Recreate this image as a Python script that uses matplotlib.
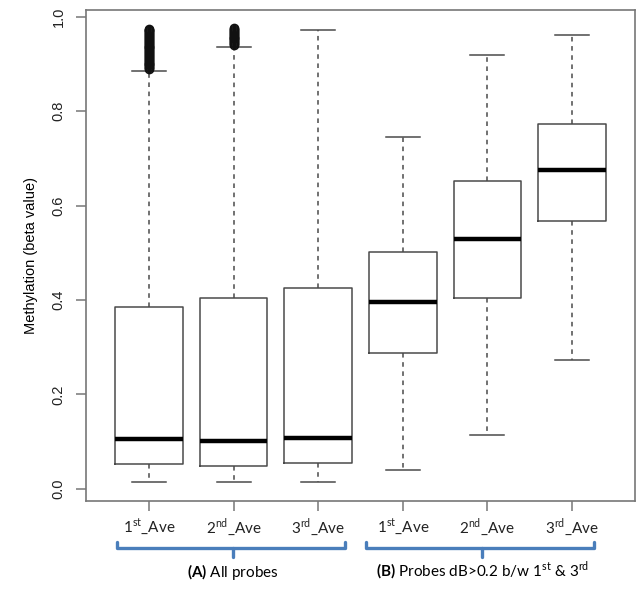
import matplotlib
matplotlib.use("Agg")
import matplotlib.pyplot as plt
import matplotlib.transforms as mtransforms

# Box statistics (beta values)
labels = [r"1$^{\mathrm{st}}$_Ave", r"2$^{\mathrm{nd}}$_Ave", r"3$^{\mathrm{rd}}$_Ave",
          r"1$^{\mathrm{st}}$_Ave", r"2$^{\mathrm{nd}}$_Ave", r"3$^{\mathrm{rd}}$_Ave"]
whis_lo = [0.0155, 0.014, 0.014, 0.040, 0.115, 0.272]
q1 = [0.053, 0.048, 0.055, 0.288, 0.404, 0.568]
medians = [0.105, 0.102, 0.107, 0.396, 0.530, 0.675]
q3 = [0.386, 0.405, 0.426, 0.501, 0.653, 0.772]
whis_hi = [0.886, 0.937, 0.972, 0.746, 0.918, 0.961]

# outliers (dense, they overlap into a solid bar)
fliers_1 = [0.889, 0.891, 0.893, 0.895, 0.897, 0.899, 0.901, 0.903, 0.905, 0.907,
            0.909, 0.911, 0.913, 0.915, 0.917, 0.919, 0.921, 0.923, 0.925, 0.927,
            0.929, 0.931, 0.933, 0.935, 0.937, 0.939, 0.941, 0.943, 0.945, 0.947,
            0.949, 0.951, 0.953, 0.955, 0.957, 0.959, 0.961, 0.963, 0.965, 0.967,
            0.969, 0.971, 0.973, 0.975]
fliers_2 = [0.940, 0.942, 0.944, 0.946, 0.948, 0.950, 0.952, 0.954, 0.956, 0.958,
            0.960, 0.962, 0.964, 0.966, 0.968, 0.970, 0.972, 0.974, 0.976]
fliers = [fliers_1, fliers_2, [], [], [], []]

group_a = "All probes"
group_b = r"Probes dB>0.2 b/w 1$^{\mathrm{st}}$ & 3$^{\mathrm{rd}}$"

plt.rcParams["mathtext.fontset"] = "custom"
plt.rcParams["mathtext.rm"] = "Lato"
plt.rcParams["mathtext.bf"] = "Lato:bold"

fig = plt.figure(figsize=(6.42, 5.91), dpi=100)
ax = fig.add_axes([0.1346, 0.1528, 0.8539, 0.8308])

stats = []
for i in range(len(labels)):
    stats.append({
        "med": medians[i], "q1": q1[i], "q3": q3[i],
        "whislo": whis_lo[i], "whishi": whis_hi[i], "fliers": fliers[i],
    })

line_col = "#4a4a4a"
ax.bxp(
    stats,
    positions=range(1, 7),
    widths=0.8,
    showfliers=True,
    boxprops=dict(color=line_col, linewidth=1.1),
    whiskerprops=dict(color=line_col, linewidth=1.1, linestyle=(0, (3, 3))),
    capprops=dict(color=line_col, linewidth=1.1),
    medianprops=dict(color="black", linewidth=3.2, solid_capstyle="butt"),
    flierprops=dict(marker="o", markersize=6, markerfacecolor="none",
                    markeredgecolor="#111111", markeredgewidth=1.0),
    capwidths=0.4,
)

ax.set_xlim(0.26, 6.74)
ax.set_ylim(-0.025, 1.015)

for s in ax.spines.values():
    s.set_color("#777777")
    s.set_linewidth(1.2)

ax.set_yticks([0.0, 0.2, 0.4, 0.6, 0.8, 1.0])
ax.set_yticklabels(["0.0", "0.2", "0.4", "0.6", "0.8", "1.0"], rotation=90,
                   va="center", family="Liberation Sans", fontsize=10.5,
                   color="#222222")
ax.tick_params(axis="y", length=7, width=1.1, color="#777777", pad=8)
ax.set_xticks(range(1, 7))
ax.set_xticklabels(labels, family="Lato", fontsize=11, color="#222222")
ax.tick_params(axis="x", length=7, width=1.1, color="#777777", pad=4)

ax.set_ylabel("Methylation (beta value)", family="Liberation Sans",
              fontsize=10.5, labelpad=10)

# group brackets under the tick labels
trans = mtransforms.blended_transform_factory(ax.transData, ax.transAxes)
blue = "#4a7ebb"
for x0, x1, xc in [(0.62, 3.32, 1.99), (3.57, 6.26, 4.94)]:
    ax.plot([x0, x0, x1, x1], [-0.0835, -0.0957, -0.0957, -0.0835],
            color=blue, lw=2.4, transform=trans, clip_on=False,
            solid_joinstyle="round", solid_capstyle="round")
    ax.plot([xc, xc], [-0.0957, -0.114], color=blue, lw=2.4, transform=trans,
            clip_on=False, solid_capstyle="round")

ax.text(1.99, -0.146, r"$\mathbf{(A)}$ " + group_a, transform=trans,
        ha="center", va="center", family="Lato", fontsize=11)
ax.text(4.94, -0.143, r"$\mathbf{(B)}$ " + group_b, transform=trans,
        ha="center", va="center", family="Lato", fontsize=11)

fig.savefig("out.png", dpi=100)
